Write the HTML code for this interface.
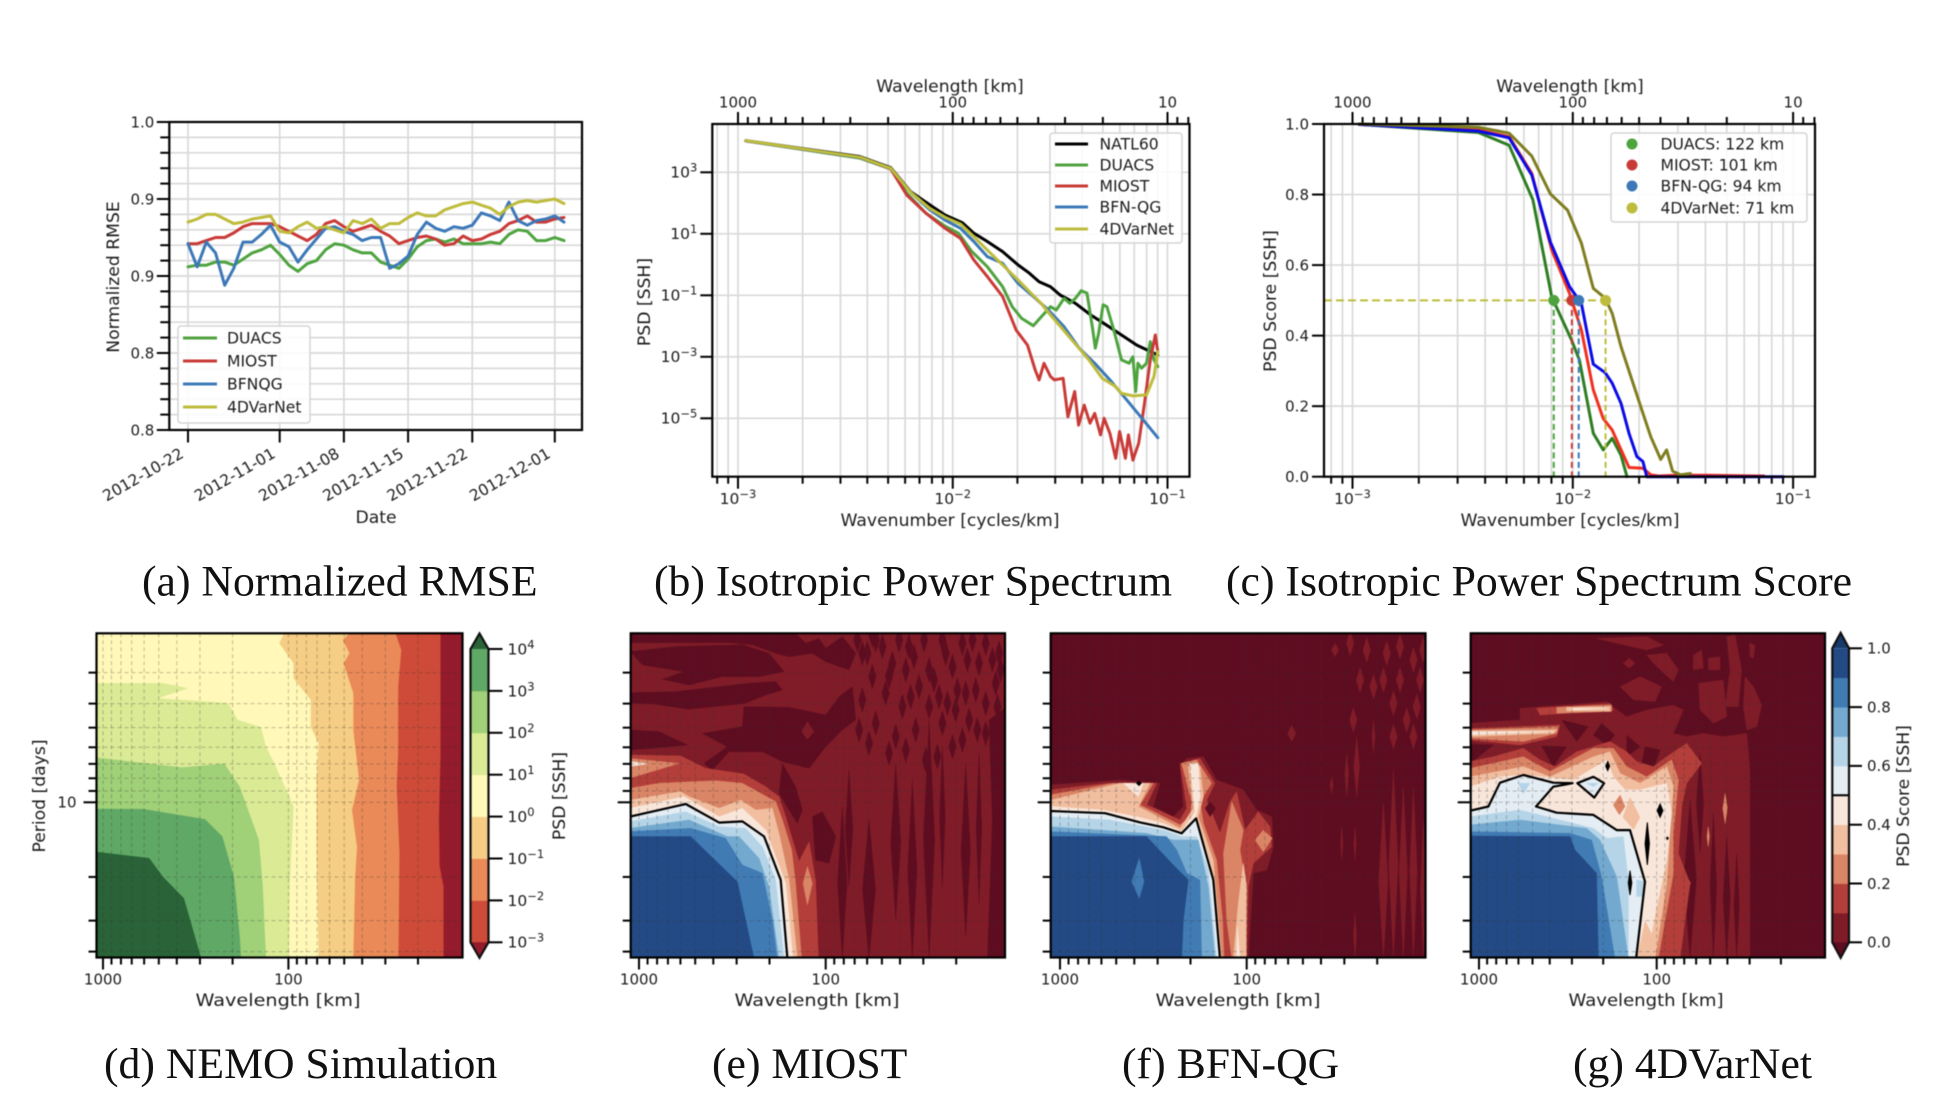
<!DOCTYPE html>
<html lang="en">
<head>
<meta charset="utf-8">
<title>SSH reconstruction diagnostics</title>
<style>
html,body{margin:0;padding:0;background:#fff;}
svg{display:block;}
text{font-family:"DejaVu Sans","Liberation Sans",sans-serif;fill:#1c1c1c;}
.cap{font-family:"Liberation Serif",serif;font-size:43.7px;fill:#111;}
.lab{font-size:17.2px;}
.leg{font-size:15.6px;}
#plots{filter:blur(0.45px);}
</style>
</head>
<body>
<svg id="fig" xmlns="http://www.w3.org/2000/svg" width="1944" height="1110" viewBox="0 0 1944 1110">
<rect width="1944" height="1110" fill="#fff"/>
<g id="plots">
  <g id="panelA"></g>
  <g id="panelB"></g>
  <g id="panelC"></g>
  <g id="panelD"></g>
  <g id="panelE"></g>
  <g id="panelF"></g>
  <g id="panelG"></g>

  <text class="lab" text-anchor="middle" transform="translate(113 277) rotate(-90)" dy=".35em">Normalized RMSE</text>
  <text class="lab" x="376" y="517" text-anchor="middle" dy=".35em">Date</text>

  <text class="lab" text-anchor="middle" transform="translate(644 302) rotate(-90)" dy=".35em">PSD [SSH]</text>
  <text class="lab" x="950" y="520" text-anchor="middle" dy=".35em">Wavenumber [cycles/km]</text>
  <text class="lab" x="950" y="86" text-anchor="middle" dy=".35em">Wavelength [km]</text>

  <text class="lab" text-anchor="middle" transform="translate(1270 301) rotate(-90)" dy=".35em">PSD Score [SSH]</text>
  <text class="lab" x="1570" y="520" text-anchor="middle" dy=".35em">Wavenumber [cycles/km]</text>
  <text class="lab" x="1570" y="86" text-anchor="middle" dy=".35em">Wavelength [km]</text>

  <text class="lab" text-anchor="middle" transform="translate(39 796) rotate(-90)" dy=".35em">Period [days]</text>
  <text class="lab" x="278" y="1000" text-anchor="middle" dy=".35em" textLength="165" lengthAdjust="spacingAndGlyphs">Wavelength [km]</text>
  <text class="lab" x="817" y="1000" text-anchor="middle" dy=".35em" textLength="165" lengthAdjust="spacingAndGlyphs">Wavelength [km]</text>
  <text class="lab" x="1238" y="1000" text-anchor="middle" dy=".35em" textLength="165" lengthAdjust="spacingAndGlyphs">Wavelength [km]</text>
  <text class="lab" x="1646" y="1000" text-anchor="middle" dy=".35em" textLength="155" lengthAdjust="spacingAndGlyphs">Wavelength [km]</text>
  <text class="lab" text-anchor="middle" transform="translate(559 796) rotate(-90)" dy=".35em">PSD [SSH]</text>
  <text class="lab" text-anchor="middle" transform="translate(1903 796) rotate(-90)" dy=".35em">PSD Score [SSH]</text>

  <g>
    <rect x="178" y="326" width="132" height="97" rx="3" fill="#fff" fill-opacity=".85" stroke="#d4d4d4" stroke-width="1.5"/>
    <g><line x1="183" x2="217" y1="338" y2="338" stroke="#4ea33f" stroke-width="3"/><text class="leg" x="227" y="338" dy=".35em">DUACS</text></g>
    <g><line x1="183" x2="217" y1="361" y2="361" stroke="#c93a37" stroke-width="3"/><text class="leg" x="227" y="361" dy=".35em">MIOST</text></g>
    <g><line x1="183" x2="217" y1="384" y2="384" stroke="#3c78b8" stroke-width="3"/><text class="leg" x="227" y="384" dy=".35em">BFNQG</text></g>
    <g><line x1="183" x2="217" y1="407" y2="407" stroke="#bebc3c" stroke-width="3"/><text class="leg" x="227" y="407" dy=".35em">4DVarNet</text></g>
  </g>
  <g>
    <rect x="1050" y="133" width="132" height="110" rx="3" fill="#fff" fill-opacity=".85" stroke="#d4d4d4" stroke-width="1.5"/>
    <g><line x1="1055" x2="1088" y1="144" y2="144" stroke="#000" stroke-width="3"/><text class="leg" x="1099.5" y="144" dy=".35em">NATL60</text></g>
    <g><line x1="1055" x2="1088" y1="165" y2="165" stroke="#4ea33f" stroke-width="3"/><text class="leg" x="1099.5" y="165" dy=".35em">DUACS</text></g>
    <g><line x1="1055" x2="1088" y1="186" y2="186" stroke="#c93a37" stroke-width="3"/><text class="leg" x="1099.5" y="186" dy=".35em">MIOST</text></g>
    <g><line x1="1055" x2="1088" y1="207" y2="207" stroke="#3c78b8" stroke-width="3"/><text class="leg" x="1099.5" y="207" dy=".35em">BFN-QG</text></g>
    <g><line x1="1055" x2="1088" y1="229" y2="229" stroke="#bebc3c" stroke-width="3"/><text class="leg" x="1099.5" y="229" dy=".35em">4DVarNet</text></g>
  </g>
  <g>
    <rect x="1611" y="133" width="196" height="89" rx="3" fill="#fff" fill-opacity=".85" stroke="#d4d4d4" stroke-width="1.5"/>
    <g><circle cx="1632" cy="144" r="5.5" fill="#4ea33f"/><text class="leg" x="1660.5" y="144" dy=".35em">DUACS: 122 km</text></g>
    <g><circle cx="1632" cy="165" r="5.5" fill="#c93a37"/><text class="leg" x="1660.5" y="165" dy=".35em">MIOST: 101 km</text></g>
    <g><circle cx="1632" cy="186" r="5.5" fill="#3c78b8"/><text class="leg" x="1660.5" y="186" dy=".35em">BFN-QG: 94 km</text></g>
    <g><circle cx="1632" cy="208" r="5.5" fill="#bebc3c"/><text class="leg" x="1660.5" y="208" dy=".35em">4DVarNet: 71 km</text></g>
  </g>
</g>
<text class="cap" x="142" y="595.5">(a) Normalized RMSE</text>
<text class="cap" x="654" y="595.5">(b) Isotropic Power Spectrum</text>
<text class="cap" x="1226" y="595.5">(c) Isotropic Power Spectrum Score</text>
<text class="cap" x="104" y="1078">(d) NEMO Simulation</text>
<text class="cap" x="712" y="1078">(e) MIOST</text>
<text class="cap" x="1122" y="1078">(f) BFN-QG</text>
<text class="cap" x="1573" y="1078">(g) 4DVarNet</text>
</svg>
<script>
const dateTickLabels = ['2012-10-22','2012-11-01','2012-11-08','2012-11-15','2012-11-22','2012-12-01'];
const dateTickDays = [0,10,17,24,31,40];
const rmseTickValues = [1.0,0.95,0.9,0.85,0.8];
const rmseTickLabels = ['1.0','0.9','0.9','0.8','0.8'];
const rmseDuacs = [.906,.907,.907,.909,.909,.907,.911,.915,.917,.920,.914,.907,.903,.908,.910,.917,.921,.920,.917,.915,.915,.909,.907,.905,.911,.919,.923,.924,.922,.924,.921,.921,.921,.922,.921,.927,.930,.929,.923,.923,.925,.923];
const rmseMiost = [.921,.921,.923,.925,.925,.928,.932,.934,.934,.934,.932,.929,.926,.923,.927,.934,.936,.932,.929,.931,.933,.929,.926,.921,.923,.925,.926,.924,.920,.921,.926,.923,.924,.927,.929,.934,.936,.939,.935,.935,.937,.938];
const rmseBfnqg = [.921,.906,.922,.915,.894,.905,.922,.922,.927,.933,.922,.919,.909,.917,.924,.931,.932,.929,.927,.923,.925,.925,.905,.908,.913,.927,.935,.931,.929,.932,.931,.933,.941,.939,.936,.948,.936,.933,.936,.937,.939,.935];
const rmse4dvar = [.935,.937,.940,.940,.937,.934,.935,.937,.938,.939,.929,.928,.932,.935,.931,.932,.930,.928,.936,.934,.937,.931,.934,.934,.938,.941,.939,.939,.943,.945,.947,.948,.946,.944,.940,.945,.948,.949,.948,.949,.950,.947];
const natlK = [-2.964,-2.432,-2.289,-2.196,-2.107,-2.036,-1.955,-1.902,-1.839,-1.768,-1.696,-1.643,-1.598,-1.545,-1.5,-1.429,-1.357,-1.286,-1.214,-1.143,-1.045];
const natlPsd = [4.03,3.51,3.15,2.37,1.94,1.61,1.36,1.02,.75,.42,-.01,-.28,-.56,-.72,-.99,-1.26,-1.64,-1.96,-2.29,-2.62,-2.94];
const duacsK = [-2.964,-2.432,-2.289,-2.214,-2.125,-2.036,-1.973,-1.911,-1.839,-1.768,-1.723,-1.679,-1.625,-1.58,-1.545,-1.518,-1.482,-1.455,-1.429,-1.402,-1.375,-1.348,-1.336,-1.321,-1.3,-1.282,-1.25,-1.214,-1.179,-1.161,-1.148,-1.138,-1.121,-1.098,-1.08,-1.063,-1.045];
const duacsPsd = [4.02,3.46,3.11,2.32,1.67,1.25,1.02,.42,-.07,-.72,-1.37,-1.75,-1.99,-1.64,-1.37,-1.48,-1.10,-1.26,-1.10,-.85,-.93,-2.13,-2.72,-2.24,-1.31,-1.37,-2.13,-3.10,-3.21,-3.0,-4.13,-3.21,-3.37,-3.21,-2.51,-3.10,-3.32];
const miostK = [-2.964,-2.432,-2.289,-2.214,-2.125,-2.036,-1.964,-1.902,-1.839,-1.768,-1.705,-1.652,-1.616,-1.598,-1.575,-1.545,-1.527,-1.486,-1.464,-1.432,-1.414,-1.388,-1.361,-1.339,-1.312,-1.295,-1.268,-1.241,-1.223,-1.196,-1.182,-1.161,-1.134,-1.107,-1.08,-1.057,-1.045];
const miostPsd = [4.02,3.48,3.11,2.26,1.67,1.18,.85,.15,-.39,-1.04,-2.13,-2.62,-3.43,-3.75,-3.21,-3.64,-3.75,-3.70,-4.95,-4.13,-5.22,-4.57,-5.16,-4.84,-5.54,-5.0,-5.49,-6.30,-5.43,-6.30,-5.54,-6.36,-5.81,-4.51,-3.10,-2.29,-2.83];
const bfnK = [-2.964,-2.432,-2.289,-2.196,-2.107,-2.036,-1.964,-1.902,-1.839,-1.768,-1.696,-1.625,-1.554,-1.482,-1.411,-1.339,-1.268,-1.196,-1.125,-1.045];
const bfnPsd = [4.02,3.48,3.13,2.35,1.78,1.45,1.18,.75,.26,.04,-.61,-1.04,-1.48,-2.02,-2.72,-3.21,-3.75,-4.35,-4.95,-5.63];
const varK = [-2.964,-2.432,-2.289,-2.196,-2.107,-2.036,-1.964,-1.902,-1.839,-1.768,-1.696,-1.634,-1.589,-1.545,-1.5,-1.438,-1.366,-1.304,-1.241,-1.214,-1.161,-1.098,-1.063,-1.045];
const varPsd = [4.03,3.49,3.13,2.35,1.83,1.54,1.32,.91,.47,-.01,-.50,-.94,-1.26,-1.64,-2.0,-2.51,-3.10,-3.70,-3.97,-4.19,-4.27,-4.24,-3.64,-2.83];
const psdExponents = [3,1,-1,-3,-5];
const scoreDuacsK = [-2.969,-2.429,-2.289,-2.181,-2.096,-2.006,-1.97,-1.907,-1.862,-1.821,-1.781,-1.754];
const scoreDuacs = [.999,.976,.94,.785,.51,.388,.331,.123,.076,.109,.061,0];
const scoreMiostK = [-2.969,-2.429,-2.289,-2.186,-2.096,-2.015,-1.961,-1.907,-1.862,-1.821,-1.745,-1.682,-1.646,-1.61,-1.529,-1.385,-1.133];
const scoreMiost = [.999,.983,.964,.86,.643,.52,.416,.246,.165,.132,.026,.024,.005,.002,.004,.004,.002];
const scoreBfnK = [-2.969,-2.429,-2.289,-2.186,-2.102,-2.015,-1.961,-1.907,-1.853,-1.821,-1.781,-1.745,-1.709,-1.682,-1.664,-1.043];
const scoreBfn = [.999,.98,.961,.855,.666,.539,.491,.319,.295,.265,.208,.123,.057,.043,0,0];
const scoreVarK = [-2.969,-2.429,-2.289,-2.186,-2.102,-2.024,-1.961,-1.907,-1.853,-1.821,-1.781,-1.682,-1.646,-1.601,-1.574,-1.547,-1.511,-1.466];
const scoreVar = [1,.991,.974,.909,.802,.756,.662,.534,.506,.463,.369,.18,.113,.049,.076,.016,.005,.009];
const resolvedWavelengths = [122,101,94,71];
const scoreTicks = [0,.2,.4,.6,.8,1];
const periodTicks = [3,4,5,6,7,8,9,10,20,30,40];
const wavelengthTicks = [1000,900,800,700,600,500,400,300,200,100,90,80,70,60,50,40,30,20];
const nemoLevels = [-3,-2,-1,0,1,2,3,4];
const scoreLevels = [0,.1,.2,.3,.4,.5,.6,.7,.8,.9,1];
const nemoM3 = [[1.18,.319],[1.18,.534],[1.18,.802],[1.189,1.071],[1.185,1.259],[1.164,1.34],[1.164,1.63],[3.05,1.63],[3.05,.319]];
const nemoM2 = [[1.423,.319],[1.392,.386],[1.409,.534],[1.409,.802],[1.417,.937],[1.402,1.206],[1.407,1.63],[3.05,1.63],[3.05,.319]];
const nemoM1 = [[1.672,.319],[1.707,.345],[1.672,.399],[1.703,.44],[1.651,.56],[1.651,.708],[1.62,.91],[1.658,1.031],[1.631,1.179],[1.641,1.3],[1.651,1.63],[3.05,1.63],[3.05,.319]];
const nemoP0 = [[2.025,.319],[2.05,.359],[1.973,.44],[1.973,.5],[1.88,.587],[1.88,.695],[1.838,.762],[1.849,.91],[1.849,1.206],[1.838,1.63],[3.05,1.63],[3.05,.319]];
const nemoP1 = [[3.05,.52],[2.678,.52],[2.544,.54],[2.71,.581],[2.326,.601],[2.274,.668],[2.149,.698],[2.122,.776],[2.077,.843],[1.973,1.017],[1.994,1.34],[1.998,1.63],[3.05,1.63]];
const nemoP2 = [[3.05,.819],[2.575,.86],[2.346,.845],[2.263,.937],[2.16,1.152],[2.139,1.34],[2.122,1.63],[3.05,1.63]];
const nemoP3 = [[3.05,1.027],[2.782,1.028],[2.45,1.069],[2.357,1.138],[2.295,1.3],[2.263,1.542],[2.257,1.63],[3.05,1.63]];
const nemoP4 = [[3.05,1.199],[2.751,1.226],[2.678,1.3],[2.564,1.387],[2.471,1.63],[3.05,1.63]];
const miostD1 = [[3.05,.319],[2.161,.319],[2.107,.359],[2.036,.339],[2,.379],[1.911,.332],[1.839,.399],[1.875,.466],[2,.433],[2.071,.399],[2.196,.413],[2.268,.399],[2.393,.365],[2.518,.356],[3.05,.356]];
const miostD2 = [[3.045,.392],[2.804,.372],[2.446,.365],[2.304,.399],[2.223,.473],[2.357,.493],[2.554,.493],[2.732,.527],[2.875,.504],[2.759,.473],[2.982,.446]];
const miostD3 = [[3.05,.558],[2.804,.554],[2.411,.52],[2.268,.513],[2.232,.547],[2.321,.567],[2.429,.601],[2.732,.625],[2.929,.603],[3.05,.601]];
const miostD4 = [[3.05,.708],[2.893,.715],[2.741,.769],[2.929,.782],[3.05,.789]];
const miostD5 = [[2.661,.722],[2.446,.695],[2.438,.614],[2.196,.617],[2,.648],[1.929,.574],[1.857,.534],[1.839,.668],[1.911,.708],[2,.776],[2.089,.863],[2.232,.836],[2.339,.796],[2.518,.796],[2.607,.87],[2.652,.843],[2.527,.776]];
const miostD6 = [[2.232,.843],[2.161,.937],[2.125,1.031],[2.152,1.085],[2.25,.964]];
const miostD7 = [[2.071,1.058],[2.018,1.038],[1.946,1.138],[1.982,1.246],[2.054,1.233]];
const miostD8 = [[1.125,.668],[1.03,.614],[1.03,1.63],[1.134,1.63],[1.107,1.071]];
const miostB1 = [[2.098,.675],[2.063,.715],[2.098,.746],[2.129,.715]];
const miostStreaks = [[1.911,1.017,1.63,.025],[1.875,.87,1.34,.02],[1.768,1.071,1.63,.035],[1.625,.843,1.474,.027],[1.536,.91,1.63,.025],[1.446,.668,1.63,.03],[1.375,.776,1.34,.015],[1.25,.843,1.542,.025],[1.179,.802,1.407,.015]];
const miostMottle = [[1.804,.399],[1.732,.345],[1.643,.44],[1.554,.372],[1.446,.466],[1.357,.399],[1.268,.359],[1.179,.44],[1.089,.52],[1.679,.56],[1.589,.614],[1.5,.534],[1.393,.574],[1.304,.628],[1.196,.547],[1.071,.399],[1.804,.587],[1.732,.681],[1.625,.735],[1.518,.708],[1.375,.681],[1.232,.668],[1.143,.722],[1.661,.802],[1.464,.829],[1.321,.776],[1.83,.345],[1.777,.399],[1.75,.325],[1.696,.372],[1.661,.493],[1.607,.345],[1.571,.466],[1.527,.413],[1.473,.345],[1.42,.507],[1.375,.345],[1.321,.453],[1.295,.547],[1.241,.426],[1.214,.345],[1.143,.359],[1.107,.426],[1.063,.466],[1.545,.574],[1.446,.614],[1.348,.601],[1.25,.56],[1.143,.601],[1.08,.614],[1.75,.493],[1.821,.708],[1.768,.762],[1.571,.789],[1.402,.816],[1.268,.749],[1.188,.708],[1.089,.722]];
const miostL1 = [[3.05,.809],[2.777,.813],[2.643,.863],[2.438,.886],[2.321,.937],[2.25,.977],[2.214,1.058],[2.143,1.239],[2.089,1.159],[2.054,1.313],[2.039,1.63],[3.05,1.63]];
const miostL2 = [[3.05,.944],[2.893,.923],[2.589,.913],[2.446,.923],[2.268,.997],[2.232,1.071],[2.182,1.192],[2.161,1.327],[2.129,1.63],[3.05,1.63]];
const miostL2b = [[3.05,.823],[2.786,.843],[3.05,.903]];
const miostL2c = [[2.098,1.259],[2.071,1.327],[2.098,1.414],[2.121,1.327]];
const miostL3 = [[3.05,.991],[2.777,.957],[2.732,.977],[2.571,1.024],[2.455,.991],[2.375,1.031],[2.286,1.024],[2.25,1.125],[2.196,1.313],[2.152,1.63],[3.05,1.63]];
const miostL3b = [[3.05,.835],[2.95,.845],[3.05,.855]];
const miostL4 = [[3.05,1.024],[2.759,.977],[2.571,1.058],[2.446,1.024],[2.321,1.112],[2.214,1.327],[2.175,1.63],[3.05,1.63]];
const miostL5 = [[3.05,1.058],[2.75,1.007],[2.571,1.082],[2.446,1.077],[2.33,1.138],[2.241,1.313],[2.205,1.63],[3.05,1.63]];
const miostL6 = [[3.05,1.078],[2.75,1.038],[2.571,1.098],[2.429,1.105],[2.339,1.179],[2.268,1.313],[2.223,1.63],[3.05,1.63]];
const miostL7 = [[3.05,1.105],[2.732,1.071],[2.527,1.138],[2.464,1.138],[2.357,1.226],[2.304,1.34],[2.25,1.63],[3.05,1.63]];
const miostL8 = [[3.05,1.118],[2.723,1.105],[2.536,1.145],[2.446,1.253],[2.339,1.286],[2.286,1.474],[2.259,1.63],[3.05,1.63]];
const miostL9 = [[3.05,1.138],[2.723,1.138],[2.473,1.32],[2.384,1.63],[3.05,1.63]];
const bfnL0 = [[3.05,.93],[2.679,.91],[2.464,.923],[2.5,1.017],[2.393,1.058],[2.339,1.017],[2.357,.856],[2.321,.823],[2.232,.816],[2.161,.91],[2.018,.95],[1.946,1.031],[1.866,1.058],[1.857,1.179],[1.893,1.273],[1.964,1.286],[1.991,1.63],[3.05,1.63]];
const bfnStreaks = [[1.42,1.447,1.63,.008],[1.268,1.004,1.63,.025],[1.214,.87,1.63,.025],[1.161,.937,1.63,.022],[1.107,.937,1.63,.02],[1.054,1.071,1.63,.015],[1.411,.735,.977,.015],[1.464,.802,.977,.01],[1.545,.897,.964,.008],[1.491,1.098,1.233,.006],[1.42,1.098,1.233,.006],[1.321,.668,.802,.008],[1.527,.359,.413,.02],[1.759,.689,.755,.022]];
const bfnMottle = [[1.25,.399],[1.179,.372],[1.107,.426],[1.143,.668],[1.214,.601],[1.321,.534],[1.393,.507],[1.429,.668],[1.089,.614],[1.357,.386],[1.446,.359],[1.268,.507],[1.179,.507],[1.071,.507],[1.214,.735],[1.107,.735],[1.054,.386]];
const bfnL1 = [[3.05,.95],[2.75,.923],[2.482,.923],[2.536,1.011],[2.357,1.071],[2.321,1.024],[2.357,.843],[2.25,.823],[2.17,.923],[2.214,.991],[2.143,1.125],[2.089,.997],[2.054,.957],[2.009,1.112],[1.938,1.038],[1.875,1.098],[1.866,1.179],[1.964,1.246],[1.991,1.34],[2,1.63],[3.05,1.63]];
const bfnD1 = [[2.223,1.024],[2.196,.997],[2.166,1.024],[2.196,1.058]];
const bfnL2 = [[3.05,.97],[2.714,.923],[2.5,.923],[2.571,1.011],[2.357,1.091],[2.304,1.058],[2.295,.997],[2.348,.843],[2.268,.829],[2.188,.923],[2.25,.997],[2.232,1.085],[2.161,1.233],[2.129,1.474],[2.121,1.63],[3.05,1.63]];
const bfnL2b = [[2.08,.997],[2.018,1.112],[2.036,1.192],[2.009,1.313],[2,1.63],[2.08,1.63],[2.107,1.474],[2.125,1.206]];
const bfnL2c = [[1.911,1.112],[1.863,1.145],[1.911,1.199],[1.955,1.152]];
const bfnL3 = [[3.05,.991],[2.679,.923],[2.518,.923],[2.58,1.017],[2.357,1.105],[2.286,1.024],[2.313,.856],[2.25,.856],[2.232,.977],[2.259,1.058],[2.179,1.233],[2.134,1.63],[3.05,1.63]];
const bfnL3b = [[2.018,1.246],[2,1.34],[2.004,1.63],[2.071,1.63],[2.045,1.407]];
const bfnL4 = [[3.05,1.017],[2.768,1.031],[2.589,1.058],[2.446,1.085],[2.348,1.118],[2.277,1.038],[2.304,.843],[2.259,.843],[2.25,.977],[2.271,1.058],[2.196,1.246],[2.143,1.63],[3.05,1.63]];
const bfnL4b = [[2.661,.923],[2.554,.923],[2.58,.977]];
const bfnL4c = [[2.054,1.63],[2.05,1.5],[2.036,1.63]];
const bfnL5 = [[3.05,1.035],[2.759,1.044],[2.571,1.081],[2.446,1.101],[2.348,1.125],[2.271,1.065],[2.179,1.313],[2.143,1.63],[3.05,1.63]];
const bfnL6 = [[3.05,1.058],[2.732,1.071],[2.446,1.112],[2.348,1.138],[2.268,1.138],[2.205,1.273],[2.161,1.63],[3.05,1.63]];
const bfnL7 = [[3.05,1.098],[2.536,1.125],[2.393,1.152],[2.259,1.152],[2.205,1.34],[2.17,1.63],[3.05,1.63]];
const bfnL8 = [[3.05,1.118],[2.429,1.138],[2.375,1.192],[2.321,1.286],[2.25,1.313],[2.241,1.63],[3.05,1.63]];
const bfnL9 = [[3.05,1.138],[2.536,1.138],[2.393,1.253],[2.313,1.313],[2.339,1.474],[2.348,1.63],[3.05,1.63]];
const bfnL8b = [[2.575,1.226],[2.55,1.32],[2.575,1.387],[2.616,1.32]];
const bfnIslands = [[2.577,.915,.932,.012]];
const varL0 = [[3.05,.681],[2.769,.668],[2.769,.621],[2.281,.594],[2.235,.621],[2.169,.655],[2.056,.628],[1.906,.608],[1.85,.628],[1.906,.722],[1.831,.735],[1.737,.722],[1.625,.735],[1.493,.722],[1.475,.87],[1.475,1.63],[3.05,1.63]];
const varL0a = [[2.206,.534],[2.094,.493],[1.972,.534],[2.009,.594],[2.131,.587]];
const varL0b = [[2.338,.339],[2.056,.332],[1.962,.366],[2.056,.386],[2.225,.359]];
const varL0c = [[2.056,.406],[1.944,.399],[1.878,.466],[1.906,.513],[2,.453]];
const varL0d = [[2.188,.44],[2.154,.419],[2.122,.44],[2.154,.459]];
const varL0e = [[1.765,.52],[1.625,.507],[1.606,.655],[1.681,.681],[1.756,.628]];
const varL0f = [[1.794,.406],[1.747,.386],[1.737,.459],[1.794,.466]];
const varL0g = [[1.709,.419],[1.644,.413],[1.644,.466],[1.709,.466]];
const varL0h = [[1.606,.332],[1.559,.325],[1.522,.466],[1.54,.614],[1.615,.614],[1.587,.466]];
const varL0i = [[1.478,.359],[1.447,.366],[1.456,.419],[1.475,.413]];
const varL0j = [[1.503,.493],[1.456,.534],[1.409,.608],[1.437,.695],[1.493,.708],[1.512,.614]];
const varD1 = [[2.535,.668],[2.385,.695],[2.45,.755]];
const varD2 = [[2.31,.681],[2.235,.729],[2.281,.769],[2.356,.729]];
const varD3 = [[2.647,.773],[2.507,.776],[2.582,.856]];
const varD4 = [[3.05,.765],[2.919,.769],[3.05,.843]];
const varD5 = [[2.169,.729],[2.094,.776],[2.169,.816]];
const varD6 = [[2.066,.776],[1.981,.789],[2.019,.87],[2.084,.843]];
const varStreaks = [[1.812,.991,1.63,.035],[1.681,1.044,1.63,.018],[1.606,1.138,1.63,.02],[1.55,1.206,1.63,.015],[1.756,.802,1.206,.02]];
const varAccents = [[1.615,.964,1.085,.013],[1.71,1.098,1.179,.007],[1.82,1.313,1.34,.01]];
const varL1 = [[3.05,.836],[2.919,.816],[2.75,.782],[2.657,.829],[2.572,.856],[2.45,.796],[2.263,.755],[2.169,.796],[2.113,.836],[2.019,.856],[1.944,.816],[1.831,.762],[1.747,.843],[1.831,.923],[1.859,1.017],[1.878,1.206],[1.812,1.327],[1.869,1.63],[3.05,1.63]];
const varL1b = [[3.05,.702],[2.544,.688],[2.563,.735],[2.769,.769],[3.05,.749]];
const varL1c = [[2.675,.621],[2.263,.601],[2.244,.628],[2.657,.648]];
const varL2 = [[3.05,.863],[2.75,.816],[2.6,.876],[2.356,.782],[2.244,.782],[2.169,.856],[2.056,.897],[1.916,.829],[1.878,.91],[1.906,1.125],[1.906,1.286],[1.953,1.474],[1.991,1.63],[3.05,1.63]];
const varL2b = [[3.05,.708],[2.553,.695],[2.563,.722],[2.75,.755],[3.05,.742]];
const varL2c = [[2.563,.617],[2.253,.608],[2.253,.634],[2.563,.641]];
const varL3 = [[3.05,.897],[2.75,.856],[2.6,.897],[2.356,.816],[2.263,.796],[2.206,.883],[2.094,.923],[1.944,.856],[1.906,.937],[1.925,1.125],[1.944,1.327],[2.009,1.63],[3.05,1.63]];
const varL3b = [[3.05,.712],[2.563,.708],[2.582,.722],[3.05,.735]];
const varL3c = [[2.507,.617],[2.263,.614],[2.263,.632],[2.507,.632]];
const varL4 = [[3.05,.937],[2.882,.897],[2.75,.89],[2.469,.91],[2.281,.829],[2.244,.897],[2.178,.95],[2.094,.95],[1.944,.923],[1.916,1.044],[1.944,1.233],[2,1.421],[2.028,1.528],[2.066,1.474],[2.113,1.63],[3.05,1.63]];
const varL2d = [[2.206,.97],[2.178,1.017],[2.21,1.051],[2.244,1.011]];
const varL3d = [[2.15,.98],[2.094,1.06],[2.13,1.11],[2.19,1.06]];
const varL4b = [[3.05,.715],[2.582,.715],[3.05,.728]];
const varL4c = [[2.469,.621],[2.281,.621],[2.469,.628]];
const varL5 = [[3.05,1.034],[2.947,1.017],[2.882,.921],[2.75,.89],[2.582,.921],[2.473,.923],[2.582,.937],[2.679,1.017],[2.563,1.042],[2.356,1.051],[2.225,1.112],[2.15,1.112],[2.066,1.32],[2.116,1.63],[3.05,1.63]];
const varL5b = [[2.447,.923],[2.356,.897],[2.296,.923],[2.351,.981]];
const varL6 = [[3.05,1.058],[2.769,1.031],[2.507,1.078],[2.356,1.105],[2.281,1.145],[2.188,1.138],[2.159,1.313],[2.159,1.63],[3.05,1.63]];
const varL6b = [[2.113,1.313],[2.066,1.32],[2.084,1.38],[2.113,1.38]];
const varL6c = [[2.779,.923],[2.713,.923],[2.75,.966]];
const varL6d = [[2.394,.923],[2.328,.923],[2.356,.937]];
const varL7 = [[3.05,1.091],[2.769,1.071],[2.394,1.105],[2.319,1.152],[2.225,1.3],[2.159,1.63],[3.05,1.63]];
const varL8 = [[3.05,1.118],[2.488,1.125],[2.366,1.152],[2.31,1.3],[2.235,1.63],[3.05,1.63]];
const varL9 = [[3.05,1.136],[2.488,1.138],[2.46,1.192],[2.338,1.286],[2.328,1.63],[3.05,1.63]];
const varIslands = [[2.276,.836,.872,.011],[1.981,1.007,1.06,.016],[2.053,1.081,1.253,.012],[2.15,1.276,1.374,.01],[1.94,1.14,1.15,.005]];
const nemoColors = ['#931b2b','#cd4b38','#ea8a58','#f6cd84','#fff8b8','#daea95','#a0d078','#60a866','#2a6337'];
const scoreColors = ['#5e0d20','#801c28','#b43f3a','#da8566','#f1bea0','#f9e6da','#e4edf4','#b5d4e7','#73a9cf','#417bb4','#234a85','#163a6a'];
const colors = {duacs:'#4ea33f',miost:'#c93a37',bfn:'#3c78b8',var4d:'#bebc3c'};
const scoreLineColors = {duacs:'#2e7d22',miost:'#f0301e',bfn:'#0a0ae6',var4d:'#7f7d20'};
const NS = 'http://www.w3.org/2000/svg';
const GRID = '#d9d9d9';
function add(parent, tag, attrs, txt){
  const e = document.createElementNS(NS, tag);
  for (const k in attrs) e.setAttribute(k, attrs[k]);
  if (txt !== undefined) e.textContent = txt;
  parent.appendChild(e);
  return e;
}
function tick(p, x1, y1, x2, y2, w){
  const t = add(p,'line',{x1,y1,x2,y2,stroke:'#000','stroke-width':w||2});
  
  
}
function grid(p, x1, y1, x2, y2, w){
  const t = add(p,'line',{x1,y1,x2,y2,stroke:GRID,'stroke-width':w||1.7});
  
  
}
function dashGrid(p, x1, y1, x2, y2){
  const t = add(p,'line',{x1,y1,x2,y2,stroke:'#333','stroke-opacity':.3,'stroke-width':1,'stroke-dasharray':'4 3'});
  
  
}
function label(p, x, y, str, anchor, rot, size){
  const a = {x,y,'text-anchor':anchor||'middle',dy:'.35em','font-size':size||15};
  if (rot) a.transform = 'rotate('+rot+' '+x+' '+y+')';
  const t = add(p,'text',a,str);
  
  
}
function powerLabel(p, x, y, exp, anchor){
  const t = add(p,'text',{x,y,'text-anchor':anchor||'middle',dy:'.35em','font-size':15.5},'10');
  add(t,'tspan',{dy:-6,'font-size':11.5},String(exp).replace('-','\u2212'));
  
  
}
function frame(p, x0, y0, x1, y1){
  const r = add(p,'rect',{x:x0,y:y0,width:x1-x0,height:y1-y0,fill:'none',stroke:'#000','stroke-width':2.2});
  
  
}
function series(p, xs, ys, sx, sy, color, name, w){
  const d = xs.map((v,i)=>(i?'L':'M')+sx(v).toFixed(1)+' '+sy(ys[i]).toFixed(1)).join('');
  const s = add(p,'path',{d,fill:'none',stroke:color,'stroke-width':w||3,'stroke-linejoin':'round','stroke-linecap':'round'});
  
  
}
(function(){
  const g = document.getElementById('panelA');
  const L=169.3,R=582,T=122,B=430;
  const sx = d => 188 + d*9.17;
  const sy = v => T + (1-v)/0.2*(B-T);
  for (let i=0;i<=20;i++){
    const v = 0.8+i*0.01, y = sy(v);
    grid(g,L,y,R,y);
    tick(g,L-(i%5===0?12.5:9),y,L,y);
  }
  dateTickDays.forEach((d,i)=>{
    const x = sx(d);
    grid(g,x,T,x,B);
    tick(g,x,B,x,B+12.5);
    label(g,x-6,452,dateTickLabels[i],'end',-30,15.5);
  });
  rmseTickValues.forEach((v,i)=>label(g,L-15,sy(v),rmseTickLabels[i],'end'));
  const days = rmseDuacs.map((_,i)=>i);
  series(g,days,rmseDuacs,sx,sy,colors.duacs,'line-duacs');
  series(g,days,rmseMiost,sx,sy,colors.miost,'line-miost');
  series(g,days,rmseBfnqg,sx,sy,colors.bfn,'line-bfnqg');
  series(g,days,rmse4dvar,sx,sy,colors.var4d,'line-4dvarnet');
  frame(g,L,T,R,B);
})();
function logWaveAxes(g, L, R, T, B, sx){
  const inside = x => x>=L-0.5 && x<=R+0.5;
  [-4,-3,-2,-1].forEach(e=>{
    for (let m=1;m<10;m++){
      const x = sx(e+Math.log10(m));
      if (!inside(x)) continue;
      grid(g,x,T,x,B);
      tick(g,x,B,x,B+(m===1?12:7));
      if (m===1) powerLabel(g,x,B+22,e);
    }
  });
  [1000,100,10].forEach(base=>{
    for (let m=1;m<10;m++){
      const wl = m===1 ? base : base*m/10;
      const x = sx(-Math.log10(wl));
      if (!inside(x)) continue;
      tick(g,x,T,x,T-(m===1?12:7));
      if (m===1) label(g,x,T-22,String(base));
    }
  });
}
(function(){
  const g = document.getElementById('panelB');
  const L=712.3,R=1189.5,T=124,B=476.7;
  const sx = k => 738+(k+3)*214.75;
  const sy = p => 172.3+(3-p)*30.75;
  logWaveAxes(g,L,R,T,B,sx);
  psdExponents.forEach(e=>{
    const y = sy(e);
    grid(g,L,y,R,y);
    tick(g,L-12,y,L,y);
    powerLabel(g,L-15,y,e,'end');
  });
  series(g,natlK,natlPsd,sx,sy,'#000','line-natl60');
  series(g,duacsK,duacsPsd,sx,sy,colors.duacs,'line-duacs');
  series(g,miostK,miostPsd,sx,sy,colors.miost,'line-miost');
  series(g,bfnK,bfnPsd,sx,sy,colors.bfn,'line-bfn-qg');
  series(g,varK,varPsd,sx,sy,colors.var4d,'line-4dvarnet');
  frame(g,L,T,R,B);
})();
(function(){
  const g = document.getElementById('panelC');
  const L=1324,R=1815,T=124,B=476.7;
  const sx = k => 1352.5+(k+3)*220.3;
  const sy = s => B-s*(B-T);
  logWaveAxes(g,L,R,T,B,sx);
  scoreTicks.forEach(s=>{
    const y = sy(s);
    grid(g,L,y,R,y);
    tick(g,L-12,y,L,y);
    label(g,L-15,y,s.toFixed(1),'end');
  });
  series(g,scoreDuacsK,scoreDuacs,sx,sy,scoreLineColors.duacs,'score-line-duacs');
  series(g,scoreMiostK,scoreMiost,sx,sy,scoreLineColors.miost,'score-line-miost');
  series(g,scoreBfnK,scoreBfn,sx,sy,scoreLineColors.bfn,'score-line-bfn-qg');
  series(g,scoreVarK,scoreVar,sx,sy,scoreLineColors.var4d,'score-line-4dvarnet');
  const pc = [colors.duacs,colors.miost,colors.bfn,colors.var4d];
  const lastX = sx(-Math.log10(Math.min(...resolvedWavelengths)));
  const h = add(g,'line',{x1:L,x2:lastX,y1:sy(.5),y2:sy(.5),stroke:colors.var4d,'stroke-width':2,'stroke-dasharray':'8 4'});
  
  
  resolvedWavelengths.forEach((w,i)=>{
    const x = sx(-Math.log10(w));
    const v = add(g,'line',{x1:x,x2:x,y1:sy(.5),y2:B,stroke:pc[i],'stroke-width':2,'stroke-dasharray':'6 3.5'});
    
    
    const c = add(g,'circle',{cx:x,cy:sy(.5),r:5.5,fill:pc[i]});
    
    
  });
  frame(g,L,T,R,B);
})();
function diamond(s){
  const mid = (s[1]+s[2])/2;
  return [[s[0],s[1]],[s[0]-s[3],mid],[s[0],s[2]],[s[0]+s[3],mid]];
}
function mottle(p){ return diamond([p[0],p[1]-.05,p[1]+.05,.02]); }
function specPanel(id, L, R, x1000, dec, base, layers, contours, closedContours, islands, colorOf, showPeriodLabel){
  const g = document.getElementById(id);
  const T=633.3,B=957.5;
  const sx = w => x1000+(3-w)*dec;
  const sy = p => 802.3+(p-1)*248;
  const cid = id+'Clip';
  const cp = add(g,'clipPath',{id:cid});
  add(cp,'rect',{x:L,y:T,width:R-L,height:B-T});
  const plot = add(g,'g',{'clip-path':'url(#'+cid+')'});
  const bg = add(plot,'rect',{x:L,y:T,width:R-L,height:B-T,fill:colorOf(base)});
  
  
  const ringPath = (r,close)=>r.map((q,i)=>(i?'L':'M')+sx(q[0]).toFixed(1)+' '+sy(q[1]).toFixed(1)).join('')+(close?'Z':'');
  layers.forEach(l=>{
    const c = colorOf(l[0]);
    const b = add(plot,'path',{d:ringPath(l[1],true),fill:c,stroke:c,'stroke-width':.4});
    
    
  });
  contours.forEach(r=>{
    const c = add(plot,'path',{d:ringPath(r.slice(0,-1),false),fill:'none',stroke:'#000','stroke-width':2.2,'stroke-linejoin':'round'});
    
    
  });
  closedContours.forEach(r=>{
    const c = add(plot,'path',{d:ringPath(r,true),fill:'none',stroke:'#000','stroke-width':2.2,'stroke-linejoin':'round'});
    
    
  });
  islands.forEach(s=>{
    const c = add(plot,'path',{d:ringPath(diamond(s),true),fill:'#000',stroke:'#000','stroke-width':1});
    
    
  });
  wavelengthTicks.forEach(w=>{
    const x = sx(Math.log10(w));
    const major = (w===1000||w===100);
    dashGrid(plot,x,T,x,B);
    tick(g,x,B,x,B+(major?12:7));
    if (major) label(g,x,979,String(w));
  });
  periodTicks.forEach(pd=>{
    const y = sy(Math.log10(pd));
    const major = pd===10;
    dashGrid(plot,L,y,R,y);
    tick(g,L-(major?13:8),y,L,y);
    if (major && showPeriodLabel) label(g,L-20,y,'10','end');
  });
  frame(g,L,T,R,B);
}
const nemoColorOf = lv => nemoColors[lv+4];
const scoreColorOf = lv => scoreColors[Math.round(lv*10)+1];
specPanel('panelD',96.5,462.5,103,185.4,-4,
  [[-3,nemoM3],[-2,nemoM2],[-1,nemoM1],[0,nemoP0],[1,nemoP1],[2,nemoP2],[3,nemoP3],[4,nemoP4]],
  [],[],[],nemoColorOf,true);
specPanel('panelE',630.7,1005,639,186.7,0,
  [[-.1,miostD1],[-.1,miostD2],[-.1,miostD3],[-.1,miostD4],[-.1,miostD5],[-.1,miostD6],[-.1,miostD7],[-.1,miostD8],[0,miostB1]]
   .concat(miostStreaks.map(s=>[-.1,diamond(s)]))
   .concat(miostMottle.map(p=>[-.1,mottle(p)]))
   .concat([[.1,miostL1],[.2,miostL2],[.2,miostL2b],[.2,miostL2c],[.3,miostL3],[.4,miostL3b],[.4,miostL4],[.5,miostL5],[.6,miostL6],[.7,miostL7],[.8,miostL8],[.9,miostL9]]),
  [miostL5],[],[],scoreColorOf,false);
specPanel('panelF',1050.7,1425.5,1060,186.7,-.1,
  bfnStreaks.map(s=>[0,diamond(s)])
   .concat(bfnMottle.map(p=>[0,mottle(p)]))
   .concat([[0,bfnL0],[.1,bfnL1],[-.1,bfnD1],[.2,bfnL2],[.2,bfnL2b],[.2,bfnL2c],[.3,bfnL3],[.3,bfnL3b],[.4,bfnL4],[.4,bfnL4b],[.4,bfnL4c],[.5,bfnL5],[.6,bfnL6],[.7,bfnL7],[.8,bfnL8],[.9,bfnL9],[.8,bfnL8b]]),
  [bfnL5],[],bfnIslands,scoreColorOf,false);
specPanel('panelG',1470.7,1825,1479,177.7,-.1,
  [[0,varL0],[0,varL0a],[0,varL0b],[0,varL0c],[0,varL0d],[0,varL0e],[0,varL0f],[0,varL0g],[0,varL0h],[0,varL0i],[0,varL0j],[-.1,varD1],[-.1,varD2],[-.1,varD3],[-.1,varD4],[-.1,varD5],[-.1,varD6]]
   .concat(varStreaks.map(s=>[-.1,diamond(s)]))
   .concat(varAccents.map(s=>[.2,diamond(s)]))
   .concat([[.1,varL1],[.1,varL1b],[.1,varL1c],[.2,varL2],[.2,varL2b],[.2,varL2c],[.3,varL3],[.3,varL3b],[.3,varL3c],[.4,varL4],[.2,varL2d],[.3,varL3d],[.4,varL4b],[.4,varL4c],[.5,varL5],[.5,varL5b],[.6,varL6],[.6,varL6b],[.6,varL6c],[.6,varL6d],[.7,varL7],[.8,varL8],[.9,varL9]]),
  [varL5],[varL5b],varIslands,scoreColorOf,false);
function colorbar(id, L, R, levels, scale, colorAt, under, over, lab){
  const g = document.getElementById(id);
  const bar = add(g,'g',{});
  
  
  for (let i=0;i<levels.length-1;i++){
    const y0 = scale(levels[i+1]), y1 = scale(levels[i]);
    const r = add(bar,'rect',{x:L,y:y0,width:R-L,height:y1-y0+.4,fill:colorAt(levels[i])});
    
    
  }
  const top = scale(levels[levels.length-1]), bot = scale(levels[0]), mid=(L+R)/2;
  const u = add(bar,'polygon',{points:L+','+bot+' '+R+','+bot+' '+mid+','+(bot+15.5),fill:under});
  
  
  const o = add(bar,'polygon',{points:L+','+top+' '+R+','+top+' '+mid+','+(top-15.5),fill:over});
  
  
  const outline = add(bar,'polygon',{points:[[L,top],[mid,top-15.5],[R,top],[R,bot],[mid,bot+15.5],[L,bot]].map(p=>p.join(',')).join(' '),fill:'none',stroke:'#111','stroke-width':2.2});
  
  
  lab(g,R);
}
const nemoBarScale = e => 942.3-(e+3)*41.9;
colorbar('panelD',470.5,488.5,nemoLevels,nemoBarScale,e=>nemoColors[e+4],nemoColors[0],nemoColors[8],(g,R)=>{
  nemoLevels.forEach(e=>{
    const y = nemoBarScale(e);
    tick(g,R,y,R+14,y);
    powerLabel(g,R+19,y,e,'start');
  });
});
const scoreBarScale = s => 942.3-s*294;
colorbar('panelG',1832.3,1849,scoreLevels,scoreBarScale,s=>scoreColors[Math.round(s*10)+1],scoreColors[0],scoreColors[11],(g,R)=>{
  [0,.2,.4,.6,.8,1].forEach(s=>{
    const y = scoreBarScale(s);
    tick(g,R,y,R+13,y);
    label(g,R+18,y,s.toFixed(1),'start');
  });
  const c = add(g,'line',{x1:1832.3,x2:1849,y1:scoreBarScale(.5),y2:scoreBarScale(.5),stroke:'#000','stroke-width':2});
  
  
});
</script>
</body>
</html>
